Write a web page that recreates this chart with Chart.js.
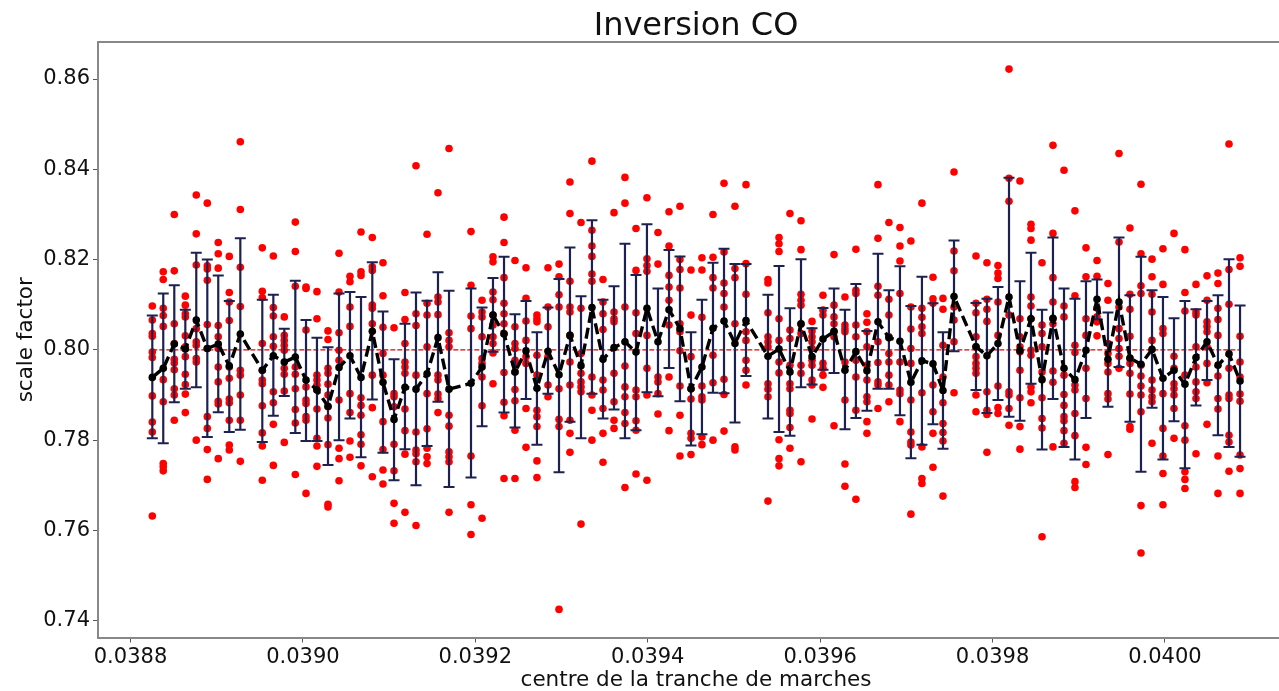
<!DOCTYPE html>
<html>
<head>
<meta charset="utf-8">
<title>Inversion CO</title>
<script src="https://cdn.jsdelivr.net/npm/chart.js@4/dist/chart.umd.min.js"></script>
<style>
    html, body { margin: 0; padding: 0; background: #fff; overflow: hidden; width: 1279px; height: 691px; }
    #wrap { width: 1294px; height: 691px; }
    canvas { display: block; }
</style>
</head>
<body>
<div id="wrap"><canvas id="chart" width="1294" height="691"></canvas></div>
<script>
const xTicks = [0.0388, 0.0390, 0.0392, 0.0394, 0.0396, 0.0398, 0.0400];
const yTicks = [0.74, 0.76, 0.78, 0.80, 0.82, 0.84, 0.86];
const target = 0.8;

const centres = [
    .0388253,.0388380,.0388508,.0388636,.0388763,.0388891,.0389018,.0389146,.0389274,.0389529,.0389657,.0389784,
    .0389912,.0390036,.0390163,.0390291,.0390419,.0390546,.0390674,.0390805,.0390929,.0391057,.0391184,.0391312,
    .0391440,.0391567,.0391695,.0391950,.0392078,.0392205,.0392333,.0392460,.0392588,.0392715,.0392843,.0392971,
    .0393098,.0393226,.0393353,.0393481,.0393609,.0393736,.0393864,.0393991,.0394119,.0394247,.0394374,.0394502,
    .0394629,.0394757,.0394885,.0395012,.0395140,.0395395,.0395523,.0395650,.0395778,.0395906,.0396033,.0396161,
    .0396288,.0396415,.0396543,.0396671,.0396798,.0396926,.0397053,.0397181,.0397309,.0397425,.0397553,.0397808,
    .0397935,.0398063,.0398191,.0398318,.0398446,.0398574,.0398701,.0398829,.0398956,.0399084,.0399212,.0399339,
    .0399467,.0399594,.0399722,.0399850,.0399977,.0400105,.0400232,.0400360,.0400488,.0400615,.0400743,.0400871
];

const means = [
    .7939,.7959,.8013,.8002,.8066,.8003,.8013,.7964,.8035,.7955,.7987,.7973,
    .7984,.7933,.7911,.7875,.7961,.7987,.7939,.8041,.7928,.7846,.7917,.7913,
    .7947,.8027,.7913,.7926,.7962,.8077,.8035,.7951,.7998,.7915,.7997,.7945,
    .8032,.7965,.8094,.7979,.8005,.8018,.7995,.8092,.8018,.8089,.8047,.7914,
    .7962,.8048,.8064,.8014,.8065,.7986,.8002,.7951,.8058,.7985,.8024,.8041,
    .7955,.7996,.7954,.8062,.8027,.8019,.7928,.7976,.7969,.7910,.8118,.8007,
    .7987,.8014,.8117,.7998,.8069,.7934,.8070,.7959,.7934,.7999,.8112,.7979,
    .8106,.7982,.7968,.8001,.7937,.7955,.7924,.7983,.8018,.7966,.7991,.7931
];

const upper = [
    .8076,.8125,.8143,.8089,.8215,.8200,.8165,.8108,.8247,.8111,.8122,.8047,
    .8153,.8066,.8027,.8006,.8125,.8128,.8117,.8194,.8085,.7979,.8058,.8127,
    .8109,.8172,.8131,.8136,.8094,.8159,.8206,.8079,.8108,.8039,.8094,.8157,
    .8227,.8119,.8287,.8111,.8141,.8235,.8166,.8278,.8136,.8221,.8207,.8039,
    .8111,.8193,.8224,.8190,.8190,.8122,.8186,.8092,.8201,.8048,.8093,.8136,
    .8089,.8146,.8042,.8213,.8132,.8185,.8097,.8162,.8103,.8039,.8242,.8104,
    .8113,.8139,.8381,.8152,.8215,.8089,.8249,.8136,.8113,.8152,.8156,.8083,
    .8249,.8121,.8206,.8132,.8117,.8070,.8108,.8090,.8108,.8121,.8201,.8098
];

const lower = [
    .7804,.7793,.7884,.7914,.7917,.7807,.7862,.7818,.7823,.7796,.7854,.7898,
    .7816,.7798,.7798,.7745,.7800,.7848,.7762,.7890,.7772,.7711,.7780,.7700,
    .7787,.7885,.7696,.7717,.7831,.7996,.7861,.7828,.7891,.7790,.7903,.7729,
    .7841,.7804,.7903,.7848,.7868,.7804,.7822,.7906,.7897,.7960,.7886,.7788,
    .7813,.7905,.7904,.7839,.7942,.7848,.7818,.7810,.7917,.7923,.7956,.7949,
    .7824,.7849,.7865,.7914,.7914,.7855,.7760,.7790,.7835,.7781,.7997,.7911,
    .7860,.7889,.7852,.7843,.7925,.7779,.7891,.7785,.7757,.7849,.8068,.7874,
    .7962,.7841,.7730,.7872,.7757,.7842,.7738,.7877,.7933,.7811,.7785,.7763
];

const samples = [
    [.8097,.8066,.8036,.8030,.7995,.7983,.7898,.7840,.7818,.7632],
    [.8173,.8156,.8092,.8076,.8052,.7934,.7885,.7748,.7741,.7732],
    [.8300,.8175,.8058,.8014,.7979,.7971,.7956,.7914,.7900,.7844],
    [.8119,.8099,.8080,.8073,.8031,.8007,.7985,.7946,.7923,.7902,.7861],
    [.8343,.8257,.8188,.8047,.8018,.8010,.7981,.7973,.7800],
    [.8325,.8186,.8179,.8154,.8056,.8003,.7852,.7826,.7779,.7713],
    [.8238,.8213,.8181,.8054,.8029,.8003,.7962,.7929,.7886,.7880,.7759],
    [.8207,.8127,.8106,.8065,.7962,.7937,.7891,.7883,.7844,.7789,.7778],
    [.8461,.8311,.8183,.8096,.7955,.7944,.7900,.7844,.7753],
    [.8226,.8130,.8116,.8014,.7955,.7933,.7925,.7876,.7816,.7787,.7711],
    [.8208,.8094,.8075,.8029,.8008,.7907,.7883,.7835,.7744],
    [.8073,.8032,.8021,.8010,.7999,.7959,.7946,.7909,.7795],
    [.8283,.8218,.8141,.7962,.7946,.7914,.7868,.7838,.7724],
    [.8139,.8136,.8044,.7918,.7889,.7881,.7852,.7844,.7682],
    [.8129,.8069,.7944,.7933,.7922,.7911,.7869,.7804,.7787,.7742],
    [.8042,.8023,.7959,.7948,.7924,.7900,.7874,.7849,.7790,.7658,.7652],
    [.8214,.8128,.8038,.7999,.7977,.7889,.7782,.7759,.7710],
    [.8163,.8151,.8095,.8052,.7903,.7861,.7798,.7762],
    [.8261,.8173,.8165,.7894,.7877,.7855,.7812,.7791,.7743],
    [.8249,.8184,.8176,.8099,.8092,.8058,.7944,.7872,.7719],
    [.8193,.8120,.8050,.7992,.7944,.7841,.7779,.7734,.7703],
    [.8049,.7903,.7896,.7874,.7791,.7732,.7660,.7616],
    [.8127,.8067,.8014,.7973,.7962,.7948,.7869,.7821,.7769,.7640],
    [.8408,.8080,.8054,.7944,.7818,.7778,.7770,.7752,.7611],
    [.8256,.8103,.8077,.8007,.7903,.7825,.7782,.7763,.7748],
    [.8348,.8117,.8106,.8078,.7944,.7933,.7902,.7892,.7861],
    [.8446,.8038,.8021,.8007,.7855,.7831,.7774,.7763,.7752,.7640],
    [.8262,.8143,.8075,.8047,.7765,.7657,.7591],
    [.8110,.8084,.8073,.8029,.7981,.7970,.7940,.7876,.7627],
    [.8206,.8195,.8128,.8111,.8077,.8055,.8029,.8014,.7993,.7925],
    [.8294,.8238,.8160,.8103,.8080,.8058,.8036,.7950,.7884,.7854,.7715],
    [.8198,.8051,.8014,.8003,.7977,.7970,.7951,.7912,.7887,.7822,.7715],
    [.8182,.8114,.8064,.8021,.7985,.7970,.7870,.7784],
    [.8077,.8069,.8062,.7988,.7944,.7866,.7852,.7830,.7754,.7717],
    [.8182,.8095,.8051,.7985,.7922,.7896],
    [.8190,.8162,.8122,.8095,.7914,.7846,.7830,.7425],
    [.8372,.8302,.8152,.8095,.8084,.8032,.7973,.7922,.7844,.7815,.7773],
    [.8282,.8092,.7992,.7948,.7929,.7918,.7907,.7614],
    [.8418,.8265,.8230,.8207,.8168,.8152,.7940,.7900,.7866,.7800],
    [.8156,.8106,.8080,.8045,.7933,.7911,.7870,.7815,.7751],
    [.8304,.8084,.8069,.8062,.7948,.7885,.7844,.7826],
    [.8382,.8325,.8095,.7964,.7918,.7896,.7861,.7837,.7695],
    [.8269,.8176,.8082,.8036,.7911,.7896,.7843,.7822,.7725],
    [.8337,.8202,.8187,.8174,.8032,.7959,.7900,.7711],
    [.8260,.8190,.7940,.7929,.7903,.7858],
    [.8306,.8230,.8165,.8139,.8110,.8055,.7940,.7821],
    [.8318,.8200,.8178,.8137,.8058,.8040,.7998,.7920,.7855,.7765],
    [.8177,.8077,.7985,.7914,.7891,.7815,.7804,.7768],
    [.8204,.8177,.8072,.7920,.7896,.7889,.7807,.7790],
    [.8300,.8205,.8160,.8137,.7988,.7927,.7800],
    [.8369,.8217,.8148,.8125,.8095,.7935,.7901,.7820],
    [.8318,.8180,.8160,.8058,.7785,.7778],
    [.8366,.8191,.8123,.8040,.8021,.7977,.7955,.7922],
    [.8156,.8148,.8082,.8029,.8018,.8007,.7925,.7913,.7896,.7665],
    [.8249,.8235,.8218,.8069,.8021,.7973,.7949,.7801,.7759,.7743],
    [.8302,.8044,.8025,.7966,.7925,.7914,.7866,.7859,.7828,.7782],
    [.8286,.8222,.8123,.8110,.8099,.8057,.8036,.7966,.7948,.7752],
    [.8063,.8042,.8029,.8018,.8003,.7977,.7966,.7933,.7922,.7847],
    [.8121,.8088,.8077,.7970,.7959,.7944,.7917],
    [.8211,.8099,.8073,.8058,.8040,.8029,.7832],
    [.8117,.8055,.8047,.8040,.7973,.7889,.7747,.7698],
    [.8223,.8132,.8125,.8055,.8029,.7977,.7940,.7866,.7669],
    [.8080,.8061,.8040,.8007,.7966,.7933,.7896,.7885,.7841,.7815],
    [.8366,.8247,.8141,.8121,.8018,.7972,.7929,.7922,.7870],
    [.8282,.8112,.8077,.8029,.7992,.7973,.7944,.7922,.7885],
    [.8271,.8230,.8197,.8125,.7973,.7911,.7903,.7841],
    [.8241,.8095,.8046,.8003,.7970,.7889,.7818,.7796,.7789,.7636],
    [.8325,.8092,.8072,.8051,.8036,.7905,.7785,.7715,.7704],
    [.8161,.8113,.8103,.7922,.7863,.7815,.7740],
    [.8114,.8090,.8010,.7940,.7883,.7837,.7817,.7798,.7676],
    [.8394,.8219,.8175,.8095,.8066,.8018,.7905],
    [.8208,.8103,.8082,.8029,.8007,.7985,.7970,.7959,.7948,.7900,.7863],
    [.8193,.8112,.8090,.8063,.7907,.7866,.7857,.7773],
    [.8187,.8170,.8158,.8106,.8032,.7920,.7872,.7859],
    [.8622,.8380,.8329,.8077,.7907,.7900,.7870,.7833],
    [.8374,.8069,.8029,.8007,.7996,.7955,.7894,.7830,.7780],
    [.8278,.8269,.8243,.8117,.8097,.8069,.7999,.7988,.7918,.7907,.7883],
    [.8193,.8055,.8036,.8007,.7951,.7894,.7848,.7827,.7586],
    [.8453,.8258,.8160,.8106,.8069,.8058,.7953,.7928,.7785],
    [.8398,.8097,.8073,.7944,.7901,.7877,.7852,.7843,.7821,.7793],
    [.8308,.8120,.8010,.7994,.7922,.7911,.7859,.7810,.7708,.7695],
    [.8226,.8162,.8069,.8032,.7959,.7892,.7784,.7746],
    [.8198,.8163,.8093,.8073,.8062,.8031],
    [.8147,.8110,.8014,.7992,.7970,.7951,.7903,.7891,.7768],
    [.8435,.8239,.8095,.8047,.8025,.8003,.7986,.7959],
    [.8270,.8123,.8090,.8030,.7981,.7970,.7948,.7902,.7830,.7824],
    [.8367,.8213,.8142,.8125,.7966,.7942,.7920,.7900,.7863,.7655,.7550],
    [.8201,.8162,.8123,.8084,.8021,.7933,.7911,.7896,.7885,.7793],
    [.8224,.8145,.8047,.8036,.7903,.7826,.7765,.7726,.7657],
    [.8258,.7986,.7959,.7925,.7914,.7900,.7870,.7804],
    [.8222,.8127,.8086,.7944,.7832,.7800,.7730,.7713,.7693],
    [.8145,.8084,.8077,.8007,.7962,.7929,.7907,.7892,.7770],
    [.8164,.8110,.8062,.8052,.8040,.8007,.7970,.7927,.7835],
    [.8170,.8147,.8092,.8067,.8032,.7942,.7892,.7869,.7765,.7682],
    [.8456,.8178,.8101,.7959,.7900,.7892,.7811,.7796,.7731],
    [.8204,.8185,.8030,.7973,.7940,.7902,.7886,.7767,.7737,.7682]
];

const scatterPoints = [];
samples.forEach((col, i) => col.forEach(v => scatterPoints.push({ x: centres[i], y: v })));

const errorPoints = [];
centres.forEach((x, i) => {
    errorPoints.push({ x: x, y: lower[i] }, { x: x, y: upper[i] }, { x: x, y: null });
});

const inkColor = '#111';
const spineColor = '#888';
const tickFont = { family: '"DejaVu Sans"', size: 21 };

new Chart(document.getElementById('chart'), {
    type: 'scatter',
    data: {
        datasets: [
            {
                data: centres.map((x, i) => ({ x: x, y: means[i] })),
                showLine: true,
                borderColor: '#000',
                borderWidth: 3.4,
                borderDash: [11, 5],
                pointRadius: 3.8,
                pointBackgroundColor: '#000',
                pointBorderWidth: 0,
                order: 1
            },
            {
                data: errorPoints,
                showLine: true,
                spanGaps: false,
                borderColor: '#1c2150',
                borderWidth: 2.2,
                pointStyle: 'line',
                pointRadius: 5.5,
                pointBorderColor: '#1c2150',
                pointBorderWidth: 2,
                order: 2
            },
            {
                data: [{ x: centres[0], y: target }, { x: centres[centres.length - 1], y: target }],
                showLine: true,
                borderColor: '#e00000',
                borderWidth: 1.2,
                borderDash: [5, 2],
                pointRadius: 0,
                order: 3
            },
            {
                data: scatterPoints,
                pointRadius: 3.8,
                pointBackgroundColor: '#ff0000',
                pointBorderWidth: 0,
                order: 4
            }
        ]
    },
    options: {
        responsive: false,
        animation: false,
        layout: { padding: 0, autoPadding: false },
        plugins: {
            legend: { display: false },
            tooltip: { enabled: false },
            title: {
                display: true,
                fullSize: false,
                text: 'Inversion CO',
                color: inkColor,
                font: { family: '"DejaVu Sans"', size: 32, weight: 'normal', lineHeight: 0.9375 },
                padding: { top: 12, bottom: 0 }
            }
        },
        scales: {
            x: {
                type: 'linear',
                min: 0.0387623,
                max: 0.0401497,
                afterBuildTicks: s => { s.ticks = xTicks.map(v => ({ value: v })); },
                afterFit: s => { s.height = 53.5; },
                border: { color: spineColor, width: 2 },
                grid: { drawOnChartArea: false, drawTicks: true, tickLength: 5, tickColor: '#555', tickWidth: 1 },
                ticks: {
                    color: inkColor, font: tickFont, padding: 2, maxRotation: 0, autoSkip: false,
                    callback: v => v.toFixed(4)
                },
                title: {
                    display: true, text: 'centre de la tranche de marches', color: inkColor,
                    font: { family: '"DejaVu Sans"', size: 21.5, lineHeight: 1 }, padding: { top: 0, bottom: 0 }
                }
            },
            xTop: {
                type: 'linear',
                position: 'top',
                min: 0.0387623,
                max: 0.0401497,
                border: { color: spineColor, width: 2 },
                grid: { drawOnChartArea: false, drawTicks: false },
                ticks: { display: false },
                afterFit: s => { s.height = 0; }
            },
            y: {
                type: 'linear',
                min: 0.73628,
                max: 0.8682,
                afterBuildTicks: s => { s.ticks = yTicks.map(v => ({ value: v })); },
                afterFit: s => { s.width = 98; },
                border: { color: spineColor, width: 2 },
                grid: { drawOnChartArea: false, drawTicks: true, tickLength: 5, tickColor: '#555', tickWidth: 1 },
                ticks: {
                    color: inkColor, font: tickFont, padding: 3, autoSkip: false,
                    callback: v => v.toFixed(2)
                },
                title: {
                    display: true, text: 'scale factor', color: inkColor,
                    font: { family: '"DejaVu Sans"', size: 21.5 }, padding: { top: 14, bottom: 0 }
                }
            }
        }
    }
});
</script>
</body>
</html>
